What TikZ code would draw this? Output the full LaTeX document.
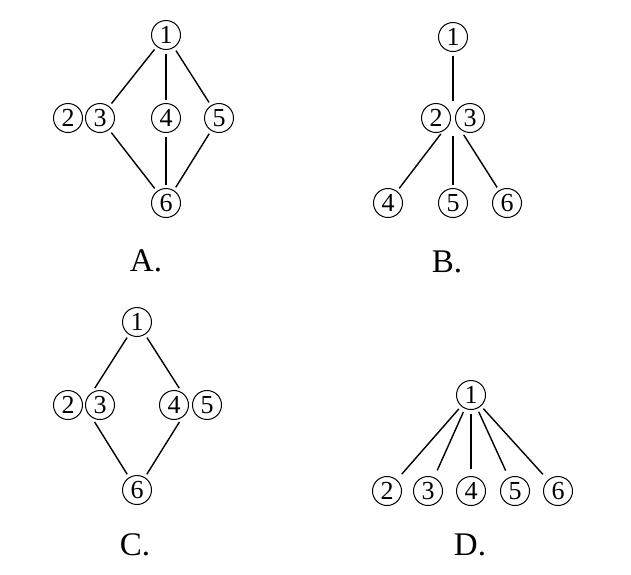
\documentclass[tikz,border=0pt]{standalone}
\usepackage{fontspec}
\setmainfont{Liberation Serif}
\usetikzlibrary{positioning}

\begin{document}
\begin{tikzpicture}[
  x=1pt, y=-1pt,
  circ/.style={circle, draw, line width=1pt, minimum size=29pt, inner sep=0pt, outer sep=4pt, font=\fontsize{26}{26}\selectfont},
  lnk/.style={line width=1.4pt},
  tag/.style={anchor=base, font=\fontsize{33}{33}\selectfont},
]
\useasboundingbox (0,0) rectangle (631,574);
% ================= A =================
\node[circ] (a1) at (166,35) {1};
\node[circ] (a2) at (68,118) {2};
\node[circ] (a3) at (100,118) {3};
\node[circ] (a4) at (166,118) {4};
\node[circ] (a5) at (219,118) {5};
\node[circ] (a6) at (166,203) {6};
\node[tag] (la) at (146,271) {A.};
\draw[lnk] (a1) -- (a3); \draw[lnk] (a1) -- (a4); \draw[lnk] (a1) -- (a5);
\draw[lnk] (a3) -- (a6); \draw[lnk] (a4) -- (a6); \draw[lnk] (a5) -- (a6);
% ================= B =================
\node[circ] (b1) at (453,37) {1};
\node[circ] (b2) at (436,118) {2};
\node[circ] (b3) at (470,118) {3};
\coordinate (b23) at (453,118);
\node[circ] (b4) at (388,203) {4};
\node[circ] (b5) at (453,203) {5};
\node[circ] (b6) at (507,203) {6};
\node[tag] (lb) at (447,272) {B.};
\draw[lnk, shorten >=17pt] (b1) -- (b23);
\draw[lnk, shorten <=20pt] (b23) -- (b4); \draw[lnk, shorten <=18pt] (b23) -- (b5); \draw[lnk, shorten <=20pt] (b23) -- (b6);
% ================= C =================
\node[circ] (c1) at (137,322) {1};
\node[circ] (c2) at (68,405) {2};
\node[circ] (c3) at (100,405) {3};
\coordinate (c23) at (84,405);
\node[circ] (c4) at (174,405) {4};
\node[circ] (c5) at (207,405) {5};
\coordinate (c45) at (190,405);
\node[circ] (c6) at (137,490) {6};
\node[tag] (lc) at (135,555) {C.};
\draw[lnk, shorten >=20pt] (c1) -- (c23); \draw[lnk, shorten >=20pt] (c1) -- (c45);
\draw[lnk, shorten <=20pt] (c23) -- (c6); \draw[lnk, shorten <=20pt] (c45) -- (c6);
% ================= D =================
\node[circ] (d1) at (471,395) {1};
\node[circ] (d2) at (387,491) {2};
\node[circ] (d3) at (428,491) {3};
\node[circ] (d4) at (471,491) {4};
\node[circ] (d5) at (515,491) {5};
\node[circ] (d6) at (558,491) {6};
\node[tag] (ld) at (470,555) {D.};
\draw[lnk, shorten >=4pt] (d1) -- (d2); \draw[lnk, shorten >=4pt] (d1) -- (d3); \draw[lnk, shorten >=4pt] (d1) -- (d4);
\draw[lnk, shorten >=4pt] (d1) -- (d5); \draw[lnk, shorten >=4pt] (d1) -- (d6);
\end{tikzpicture}
\end{document}
